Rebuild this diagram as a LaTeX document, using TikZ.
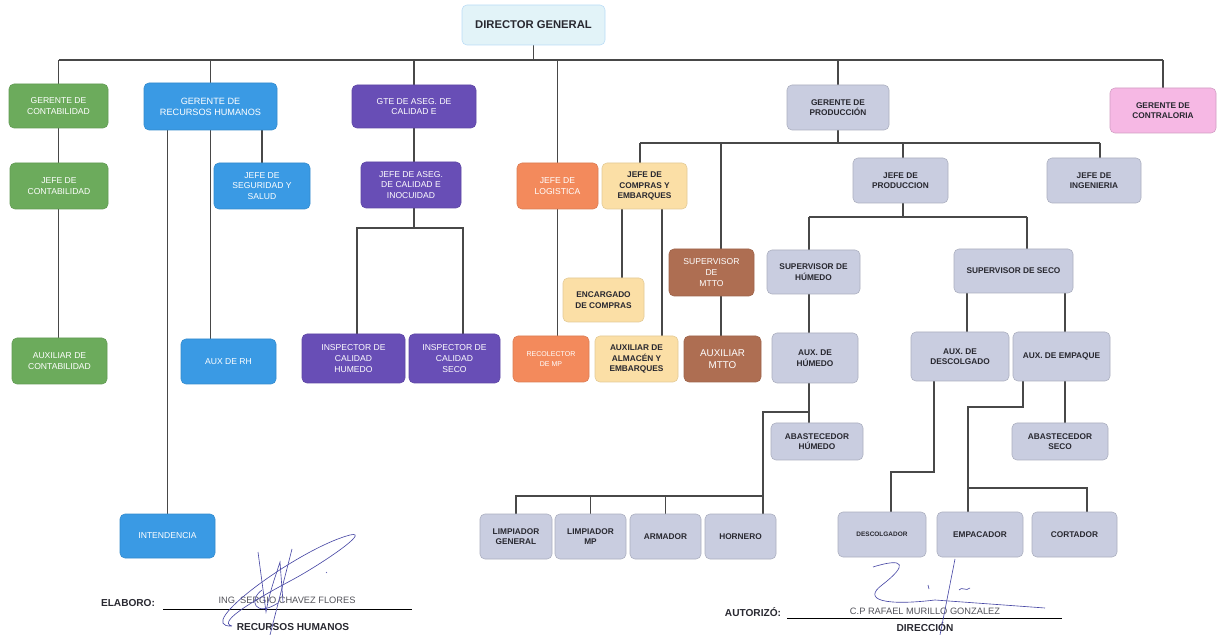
\documentclass[tikz,border=0pt]{standalone}
\usepackage{fontspec}
\setmainfont{Liberation Sans}
\usetikzlibrary{backgrounds}

\definecolor{cVerde}{RGB}{108,171,92}
\definecolor{cAzul}{RGB}{58,154,228}
\definecolor{cMorado}{RGB}{104,78,182}
\definecolor{cNaranja}{RGB}{243,138,92}
\definecolor{cCrema}{RGB}{251,223,166}
\definecolor{cCafe}{RGB}{174,110,82}
\definecolor{cGris}{RGB}{201,205,224}
\definecolor{cRosa}{RGB}{246,184,228}
\definecolor{cCielo}{RGB}{226,243,248}
\definecolor{cLinea}{RGB}{72,72,72}
\definecolor{cTexto}{RGB}{40,40,48}
\definecolor{cFirma}{RGB}{72,72,165}

\tikzset{
  caja/.style={rounded corners=3.5pt, inner sep=1pt, align=center, line width=0.4pt},
  sz/.style 2 args={minimum width=#1*0.025cm, minimum height=#2*0.025cm},
  blanco/.style={caja, text=white, font=\fontsize{6.1}{7.6}\selectfont},
  oscuro/.style={caja, text=cTexto, font=\fontsize{5.9}{7.4}\selectfont\bfseries},
  verde/.style={blanco, fill=cVerde, draw=cVerde!90!black},
  azul/.style={blanco, fill=cAzul, draw=cAzul!90!black},
  morado/.style={blanco, fill=cMorado, draw=cMorado!90!black},
  naranja/.style={blanco, fill=cNaranja, draw=cNaranja!90!black},
  crema/.style={oscuro, fill=cCrema, draw=cCrema!90!black},
  cafe/.style={blanco, fill=cCafe, draw=cCafe!90!black},
  gris/.style={oscuro, fill=cGris, draw=cGris!85!black},
  rosa/.style={oscuro, fill=cRosa, draw=cRosa!85!black},
  linea/.style={draw=cLinea, line width=1.1pt},
  firma/.style={draw=cFirma, line width=0.45pt},
  pie/.style={text=cTexto, font=\fontsize{7.2}{8}\selectfont\bfseries, inner sep=0pt},
}

\begin{document}
\begin{tikzpicture}[x=0.025cm, y=-0.025cm]
  \useasboundingbox (0,0) rectangle (1217,635);

  \node[caja, fill=cCielo, draw=cAzul!35, sz={143}{40}, text=cTexto,
        font=\fontsize{8}{9}\selectfont\bfseries] (dg) at (533.5,25) {DIRECTOR GENERAL};

  % contabilidad
  \node[verde, sz={99}{44}] (gcont) at (58.5,106) {GERENTE DE\\CONTABILIDAD};
  \node[verde, sz={98}{46}] (jcont) at (59,186) {JEFE DE\\CONTABILIDAD};
  \node[verde, sz={95}{46}] (auxcont) at (59.5,361) {AUXILIAR DE\\CONTABILIDAD};

  % recursos humanos
  \node[azul, sz={133}{47}, font=\fontsize{6.5}{8}\selectfont] (grh) at (210.5,106.5) {GERENTE DE\\RECURSOS HUMANOS};
  \node[azul, sz={96}{46}] (jseg) at (262,186) {JEFE DE\\SEGURIDAD Y\\SALUD};
  \node[azul, sz={95}{45}] (auxrh) at (228.5,361.5) {AUX DE RH};
  \node[azul, sz={95}{44}] (intend) at (167.5,536) {INTENDENCIA};

  % calidad
  \node[morado, sz={124}{43}] (gcal) at (414,106.5) {GTE DE ASEG. DE\\CALIDAD E};
  \node[morado, sz={100}{46}] (jcal) at (411,185) {JEFE DE ASEG.\\DE CALIDAD E\\INOCUIDAD};
  \node[morado, sz={103}{49}] (insph) at (353.5,358.5) {INSPECTOR DE\\CALIDAD\\HUMEDO};
  \node[morado, sz={91}{49}] (insps) at (454.5,358.5) {INSPECTOR DE\\CALIDAD\\SECO};

  % logistica, compras, mtto
  \node[naranja, sz={81}{46}] (jlog) at (557.5,186) {JEFE DE\\LOGISTICA};
  \node[naranja, sz={76}{46}, font=\fontsize{5}{6.5}\selectfont] (recol) at (551,359) {RECOLECTOR\\DE MP};
  \node[crema, sz={85}{46}] (jcomp) at (644.5,186) {JEFE DE\\COMPRAS Y\\EMBARQUES};
  \node[crema, sz={81}{44}] (encomp) at (603.5,300) {ENCARGADO\\DE COMPRAS};
  \node[crema, sz={83}{46}] (auxalm) at (636.5,359) {AUXILIAR DE\\ALMACÉN Y\\EMBARQUES};
  \node[cafe, sz={85}{47}] (supmt) at (711.5,272.5) {SUPERVISOR\\DE\\MTTO};
  \node[cafe, sz={77}{46}, font=\fontsize{7}{8.6}\selectfont] (auxmt) at (722.5,359) {AUXILIAR\\MTTO};

  % produccion
  \node[gris, sz={102}{45}] (gprod) at (838,107.5) {GERENTE DE\\PRODUCCIÓN};
  \node[rosa, sz={106}{45}] (gcontra) at (1163,110.5) {GERENTE DE\\CONTRALORIA};
  \node[gris, sz={95}{45}] (jprod) at (900.5,180.5) {JEFE DE\\PRODUCCION};
  \node[gris, sz={94}{45}] (jing) at (1094,180.5) {JEFE DE\\INGENIERIA};
  \node[gris, sz={93}{44}] (suph) at (813.5,272) {SUPERVISOR DE\\HÚMEDO};
  \node[gris, sz={86}{50}] (auxh) at (815,358) {AUX. DE\\HÚMEDO};
  \node[gris, sz={92}{37}] (abh) at (817,441.5) {ABASTECEDOR\\HÚMEDO};
  \node[gris, sz={119}{44}] (sups) at (1013.5,271) {SUPERVISOR DE SECO};
  \node[gris, sz={98}{49}] (auxdes) at (960,356.5) {AUX. DE\\DESCOLGADO};
  \node[gris, sz={97}{49}] (auxemp) at (1061.5,356.5) {AUX. DE EMPAQUE};
  \node[gris, sz={96}{37}] (abs) at (1060,441.5) {ABASTECEDOR\\SECO};
  \node[gris, sz={72}{45}] (limg) at (516,536.5) {LIMPIADOR\\GENERAL};
  \node[gris, sz={71}{45}] (limmp) at (590.5,536.5) {LIMPIADOR\\MP};
  \node[gris, sz={71}{45}] (arm) at (665.5,536.5) {ARMADOR};
  \node[gris, sz={71}{45}] (horn) at (740.5,536.5) {HORNERO};
  \node[gris, sz={88}{45}, font=\fontsize{4.6}{6}\selectfont\bfseries] (desc) at (882,534.5) {DESCOLGADOR};
  \node[gris, sz={86}{45}] (empac) at (980,534.5) {EMPACADOR};
  \node[gris, sz={85}{45}] (cort) at (1074.5,534.5) {CORTADOR};

  \begin{pgfonlayer}{background}
    \coordinate (bus) at (0,60);
    \draw[linea] (gcont.north |- bus) -- (gcontra.north |- bus);
    \draw[linea] (dg.south) -- (dg.south |- bus);
    \foreach \n in {gcont,grh,gcal,gprod,gcontra}
      \draw[linea] (\n.north) -- (\n.north |- bus);
    \draw[linea] (jlog.north |- bus) -- (jlog.south |- recol.north);

    \draw[linea] (gcont) -- (gcont |- auxcont.north);

    \draw[linea] (intend.north |- grh.south) -- (intend.north);
    \draw[linea] (grh) -- (grh |- auxrh.north);
    \draw[linea] (jseg.north |- grh.south) -- (jseg.north);

    \draw[linea] (gcal) -- (gcal |- 0,228);
    \draw[linea] (insph.north -| 357,0) -- (357,228) -- (463,228) -- (insps.north -| 463,0);

    % buses de produccion
    \draw[linea] (gprod) -- (gprod |- 0,143);
    \draw[linea] (640,143) -- (1100,143);
    \draw[linea] (640,143) -- (jcomp.north -| 640,0);
    \draw[linea] (721,143) -- (auxmt.north -| 721,0);
    \draw[linea] (903,143) -- (jprod.north -| 903,0);
    \draw[linea] (1100,143) -- (jing.north -| 1100,0);
    \draw[linea] (jcomp.south -| 622,0) -- (encomp.north -| 622,0);
    \draw[linea] (jcomp.south -| 662,0) -- (auxalm.north -| 662,0);

    \draw[linea] (jprod.south -| 903,0) -- (903,217);
    \draw[linea] (809,217) -- (1027,217);
    \draw[linea] (809,217) -- (abh.north -| 809,0);
    \draw[linea] (809,412) -- (763,412) -- (horn.north -| 763,0);
    \draw[linea] (limg.north) -- (limg.north |- 0,496) -- (763,496);
    \foreach \n in {limmp,arm}
      \draw[linea] (\n.north) -- (\n.north |- 0,496);

    \draw[linea] (1027,217) -- (sups.north -| 1027,0);
    \draw[linea] (sups.south -| 967,0) -- (auxdes.north -| 967,0);
    \draw[linea] (sups.south -| 1065,0) -- (abs.north -| 1065,0);
    \draw[linea] (auxdes.south -| 934,0) -- (934,472) -- (891,472) -- (desc.north -| 891,0);
    \draw[linea] (auxemp.south -| 1023,0) -- (1023,407) -- (968,407) -- (empac.north -| 968,0);
    \draw[linea] (968,488) -- (1087,488) -- (cort.north -| 1087,0);
  \end{pgfonlayer}

  % firmas
  \node[pie] (elab) at (128,603) {ELABORO:};
  \draw[line width=0.5pt] (163,609) -- (412,609);
  \node[text=cTexto!80, font=\fontsize{6.6}{7}\selectfont, inner sep=0pt] (nomrh) at (287,600) {ING. SERGIO CHAVEZ FLORES};
  \node[pie] (deprh) at (293,627) {RECURSOS HUMANOS};
  \draw[firma] (232,626) .. controls (190,628) and (300,548) .. (350,535)
               .. controls (372,530) and (320,565) .. (292,580)
               .. controls (262,596) and (215,622) .. (232,626);
  \draw[firma] (258,552) -- (266,612) .. controls (270,590) and (276,575) .. (280,562) -- (283,602);
  \draw[firma] (292,549) -- (270,635);
  \draw[firma] (262,590) .. controls (248,600) and (255,618) .. (278,603);
  \draw[firma] (326,572) -- (327,573);

  \node[pie] (autor) at (753,612) {AUTORIZÓ:};
  \draw[line width=0.5pt] (787,618) -- (1062,618);
  \node[text=cTexto!80, font=\fontsize{6.6}{7}\selectfont, inner sep=0pt] (nomdir) at (925,611) {C.P RAFAEL MURILLO GONZALEZ};
  \node[pie] (depdir) at (925,627) {DIRECCIÓN};
  \draw[firma] (873,567) .. controls (905,557) and (908,565) .. (882,585)
               .. controls (862,600) and (885,606) .. (935,600) -- (1045,608);
  \draw[firma] (955,559) -- (940,635);
  \draw[firma] (928,585) -- (929,589);
  \draw[firma] (959,590) .. controls (962,586) and (966,592) .. (970,588);
\end{tikzpicture}
\end{document}
